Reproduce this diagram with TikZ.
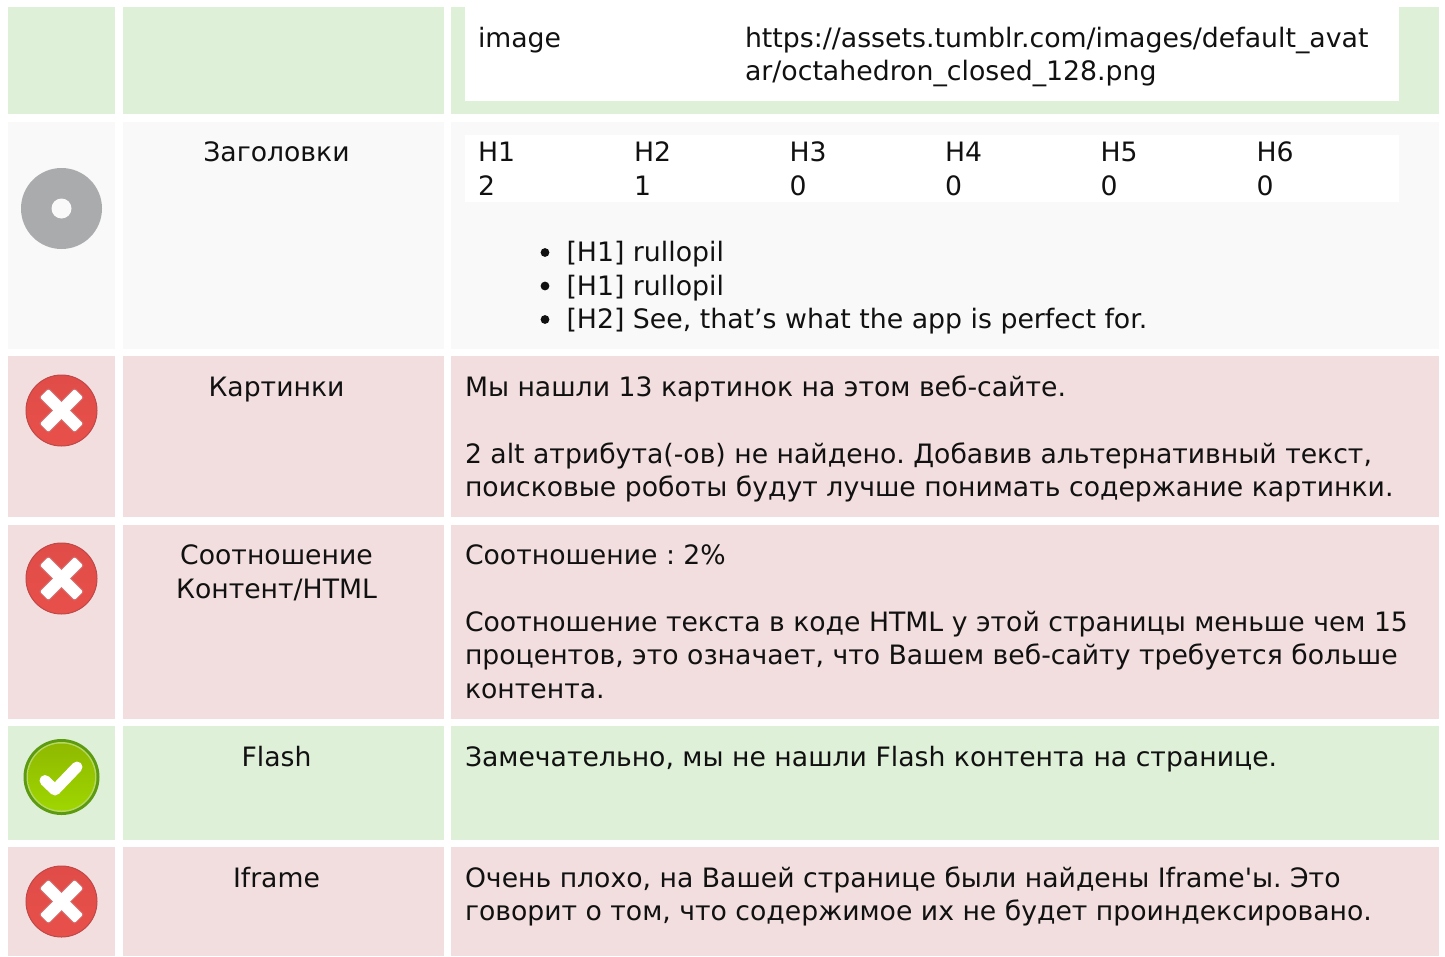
\documentclass[tikz,border=0pt]{standalone}
\usepackage{fontspec}
\newfontfamily\djv{DejaVu Sans}
\definecolor{okbg}{HTML}{DFF0D8}
\definecolor{badbg}{HTML}{F2DEDE}
\definecolor{neutralbg}{HTML}{F9F9F9}
\definecolor{ink}{HTML}{111111}
\definecolor{diskc}{HTML}{AAABAD}
\definecolor{xtop}{HTML}{E04C48}
\definecolor{xmid}{HTML}{E62A24}
\definecolor{xbot}{HTML}{E8504A}
\definecolor{xrim}{HTML}{C04848}
\definecolor{xhalo}{HTML}{D86868}
\definecolor{vrim}{HTML}{5C9A10}
\definecolor{vring}{HTML}{B6D862}
\definecolor{vtop}{HTML}{8FB900}
\definecolor{vbot}{HTML}{9FD600}
\tikzset{
  txt/.style={anchor=base west,inner sep=0pt,outer sep=0pt,text=ink,font=\djv\fontsize{26.67}{33.5}\selectfont},
  lat/.style={txt,font=\djv\fontsize{26.75}{33.5}\selectfont},
  ctxt/.style={txt,anchor=base},
}
\frenchspacing
\begin{document}
\begin{tikzpicture}[x=1pt,y=-1pt]
\useasboundingbox (0,0) rectangle (1445,956);
% row backgrounds
\foreach \ya/\yb/\c in {7/114/okbg,122/349/neutralbg,356/517/badbg,525/719/badbg,726/840/okbg,847/956/badbg}{
  \fill[\c] (8,\ya) rectangle (115,\yb);
  \fill[\c] (123,\ya) rectangle (444,\yb);
  \fill[\c] (451,\ya) rectangle (1439,\yb);
}
\fill[white] (465,7) rectangle (1399,101);
\fill[white] (465,135) rectangle (1399,202);
% neutral icon
\fill[diskc] (61.5,208.5) circle[radius=40.5];
\fill[neutralbg] (61.5,208.5) circle[radius=10];
% x icons
\foreach \yc in {410.5,578.5,901.5}{
  \shade[top color=xtop,middle color=xmid,bottom color=xbot,draw=xrim,line width=1pt] (61.5,\yc) circle[radius=35.5];
  \foreach \ang in {45,-45}{
    \fill[xhalo,rounded corners=2.5pt,rotate around={\ang:(61.5,\yc)}] (36,\yc-7.2) rectangle (87,\yc+7.2);
  }
  \foreach \ang in {45,-45}{
    \fill[white,rounded corners=2pt,rotate around={\ang:(61.5,\yc)}] (37,\yc-6) rectangle (86,\yc+6);
  }
}
% check icon
\fill[vrim] (61.5,777) circle[radius=38];
\fill[vring] (61.5,777) circle[radius=35];
\shade[top color=vtop,bottom color=vbot] (61.5,777) circle[radius=33.5];
\draw[white,line width=11pt,line join=round,line cap=round] (45,780.5) -- (55,790) -- (77,767);
% row 1
\node[txt] (n1) at (478,47) {image};
\node[lat] (n2) at (745,47) {https://assets.tumblr.com/images/default\_avat};
\node[lat] (n3) at (745,80.5) {ar/octahedron\_closed\_128.png};
% row 2
\node[ctxt] (n4) at (276.5,161.5) {Заголовки};
\node[txt] (h1) at (478,161.5) {H1};
\node[txt] (h2) at (634,161.5) {H2};
\node[txt] (h3) at (789.5,161.5) {H3};
\node[txt] (h4) at (945,161.5) {H4};
\node[txt] (h5) at (1100.5,161.5) {H5};
\node[txt] (h6) at (1256.5,161.5) {H6};
\node[txt] (v1) at (478,195) {2};
\node[txt] (v2) at (634,195) {1};
\node[txt] (v3) at (789.5,195) {0};
\node[txt] (v4) at (945,195) {0};
\node[txt] (v5) at (1100.5,195) {0};
\node[txt] (v6) at (1256.5,195) {0};
\foreach \yb/\t [count=\i] in {261.5/{[H1] rullopil},295/{[H1] rullopil},328.5/{[H2] See, that’s what the app is perfect for.}}{
  \fill[ink] (545,\yb-9) circle[radius=4.4];
  \node[lat] (l\i) at (566.5,\yb) {\t};
}
% row 3
\node[ctxt] (n5) at (276.5,396.5) {Картинки};
\node[txt] (n6) at (465,396.5) {Мы нашли 13 картинок на этом веб-сайте.};
\node[txt] (n7) at (465,463.5) {2 alt атрибута(-ов) не найдено. Добавив альтернативный текст,};
\node[txt] (n8) at (465,496.5) {поисковые роботы будут лучше понимать содержание картинки.};
% row 4
\node[ctxt] (n9) at (276.5,564.5) {Соотношение};
\node[ctxt] (n10) at (276.5,598) {Контент/HTML};
\node[txt] (n11) at (465,564.5) {Соотношение : 2\%};
\node[txt] (n12) at (465,631.5) {Соотношение текста в коде HTML у этой страницы меньше чем 15};
\node[txt] (n13) at (465,664.5) {процентов, это означает, что Вашем веб-сайту требуется больше};
\node[txt] (n14) at (465,698.5) {контента.};
% row 5
\node[ctxt] (n15) at (276.5,766.5) {Flash};
\node[txt] (n16) at (465,766.5) {Замечательно, мы не нашли Flash контента на странице.};
% row 6
\node[ctxt] (n17) at (276.5,887.5) {Iframe};
\node[txt] (n18) at (465,887.5) {Очень плохо, на Вашей странице были найдены Iframe'ы. Это};
\node[txt] (n19) at (465,920.5) {говорит о том, что содержимое их не будет проиндексировано.};
\end{tikzpicture}
\end{document}
